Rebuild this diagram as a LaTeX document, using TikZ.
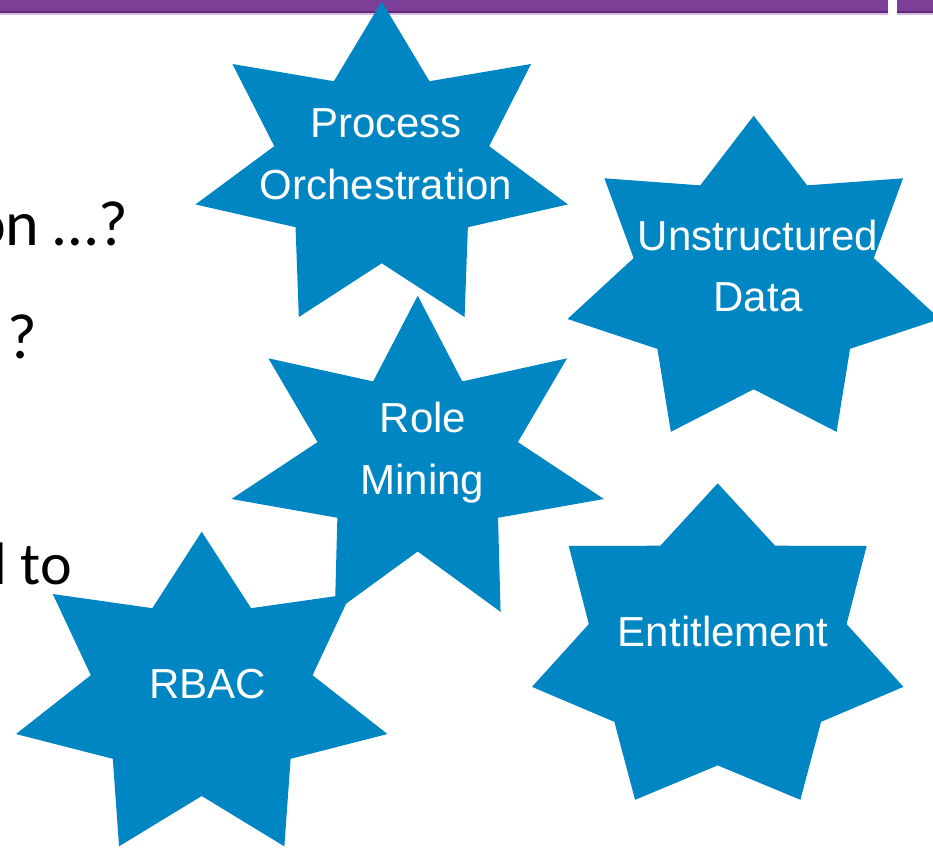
\documentclass[tikz,border=0pt]{standalone}
\usepackage{fontspec}
\setmainfont{Liberation Sans}
\newfontfamily\bodyfont{Carlito}
\definecolor{starblue}{HTML}{0086C3}
\definecolor{barpurple}{HTML}{7B3F98}
\definecolor{bardark}{HTML}{5E2A78}
\definecolor{barlight}{HTML}{D8B9E4}
\newcommand\drawstar[5]{%
  \fill[starblue] plot[samples at={0,1,...,13}, variable=\k]
    ({#1 + #3*ifthenelse(mod(\k,2)==0,1,#5)*cos(90+\k*180/7)},
     {#2 - #4*ifthenelse(mod(\k,2)==0,1,#5)*sin(90+\k*180/7)}) -- cycle;}
\tikzset{
  startext/.style={text=white, inner sep=0pt, anchor=base, font=\fontsize{42}{50}\selectfont},
  bodytext/.style={text=black, inner sep=0pt, anchor=base east, font=\bodyfont\fontsize{64}{76}\selectfont},
}
\begin{document}
\begin{tikzpicture}[x=1pt,y=-1pt]
\useasboundingbox (0,0) rectangle (933,848);
\clip (0,0) rectangle (933,848);
\fill[white] (0,0) rectangle (933,848);
% top bar
\fill[barlight] (0,12) rectangle (888,15);
\fill[barlight] (897,12) rectangle (933,15);
\fill[barpurple] (0,0) rectangle (888,12.5);
\fill[barpurple] (897,0) rectangle (933,12.5);
\fill[bardark] (0,11.5) rectangle (888,13);
\fill[bardark] (897,11.5) rectangle (933,13);
% left text fragments
\node[bodytext] (t1) at (128,245.5) {on …?};
\node[bodytext] (t2) at (37,358.3) {?};
\node[bodytext, font=\bodyfont\fontsize{60}{72}\selectfont] (t3) at (72,584) {l to};
% stars
\coordinate (po) at (381.7,167.5);
\coordinate (ud) at (753.7,282);
\coordinate (rm) at (417.7,462);
\coordinate (rb) at (201.7,697.2);
\coordinate (en) at (717.7,649.8);
\drawstar{381.7}{167.5}{191}{166}{0.577}
\drawstar{753.7}{282}{191}{166.3}{0.645}
\drawstar{417.7}{462}{191}{166.3}{0.538}
\drawstar{201.7}{697.2}{190.5}{165.5}{0.597}
\drawstar{717.7}{649.8}{190.5}{166.5}{0.694}
% labels
\node[startext] (po1) at (386,137.3) {Process};
\node[startext] (po2) at (386,199.3) {Orchestration};
\node[startext] (ud1) at (758,250) {Unstructured};
\node[startext] (ud2) at (758,311.7) {Data};
\node[startext] (rm1) at (423,432.3) {Role};
\node[startext] (rm2) at (422.5,494) {Mining};
\node[startext] (rb1) at (207.5,698.3) {RBAC};
\node[startext] (en1) at (723,646.7) {Entitlement};
\end{tikzpicture}
\end{document}
